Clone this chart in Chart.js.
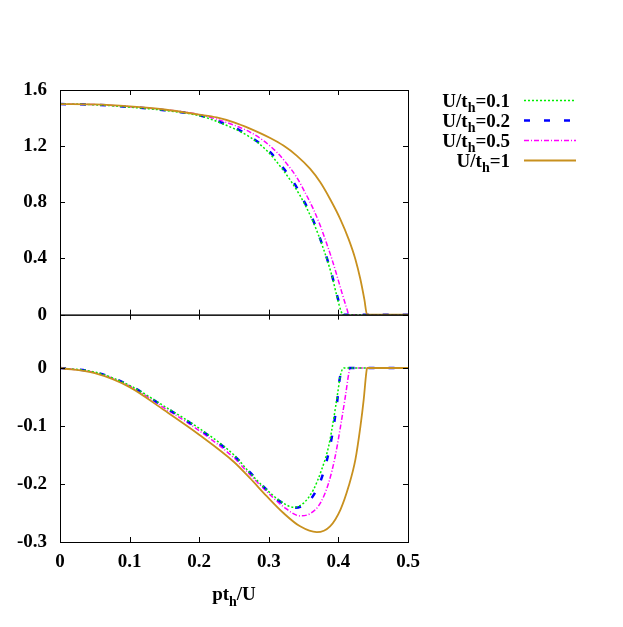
<!DOCTYPE html>
<html lang="en">
  <head>
    <meta charset="UTF-8" />
    <style>
      body { margin: 0; background: #fff; }
    </style>
  </head>
  <body>
    <canvas id="myChart" width="623" height="627"></canvas>
    <script src="https://cdn.jsdelivr.net/npm/chart.js@4.4.0/dist/chart.umd.min.js"></script>
    <script>
      // tick values
      var xTicks = [0, 0.1, 0.2, 0.3, 0.4, 0.5];
      var topTicks = [0, 0.4, 0.8, 1.2, 1.6];
      var botTicks = [-0.3, -0.2, -0.1, 0];
      var uLabels = ["0.1", "0.2", "0.5", "1"];

      // upper panel, [pt_h/U, value]
      var top01 = [[0,1.5],[0.05,1.495],[0.1,1.478],[0.15,1.455],[0.2,1.417],[0.23,1.367],[0.273,1.264],[0.297,1.169],[0.321,1.026],[0.345,0.847],[0.364,0.657],[0.3787,0.466],[0.3907,0.276],[0.3989,0.109],[0.4037,0.026],[0.4066,0],[0.5,0]];
      var top02 = [[0,1.5],[0.05,1.495],[0.1,1.479],[0.15,1.456],[0.2,1.42],[0.23,1.371],[0.259,1.311],[0.278,1.252],[0.302,1.157],[0.321,1.043],[0.338,0.924],[0.352,0.795],[0.364,0.669],[0.374,0.538],[0.3836,0.4],[0.3917,0.264],[0.3989,0.121],[0.405,0.026],[0.4075,0],[0.5,0]];
      var top05 = [[0,1.5],[0.05,1.496],[0.1,1.481],[0.15,1.46],[0.2,1.425],[0.25,1.35],[0.273,1.3],[0.292,1.24],[0.3115,1.157],[0.326,1.074],[0.34,0.979],[0.352,0.871],[0.364,0.752],[0.374,0.633],[0.3826,0.514],[0.3907,0.395],[0.398,0.276],[0.405,0.157],[0.4124,0.038],[0.415,0],[0.5,0]];
      var top1 = [[0,1.5],[0.05,1.497],[0.1,1.483],[0.15,1.461],[0.2,1.425],[0.225,1.405],[0.25,1.37],[0.273,1.325],[0.302,1.258],[0.321,1.204],[0.34,1.133],[0.3595,1.038],[0.374,0.943],[0.388,0.824],[0.4027,0.681],[0.4147,0.538],[0.4244,0.395],[0.4316,0.252],[0.4373,0.109],[0.4412,0],[0.5,0]];

      // lower panel
      var bot01 = [[0,0],[0.05,-0.007],[0.1,-0.03],[0.15,-0.066],[0.2,-0.104],[0.25,-0.15],[0.273,-0.181],[0.297,-0.21],[0.321,-0.233],[0.3355,-0.24],[0.3499,-0.233],[0.364,-0.21],[0.376,-0.175],[0.386,-0.135],[0.393,-0.089],[0.399,-0.043],[0.4027,-0.014],[0.4075,0],[0.5,0]];
      var bot02 = [[0,0],[0.05,-0.007],[0.1,-0.03],[0.15,-0.067],[0.2,-0.105],[0.25,-0.151],[0.273,-0.18],[0.292,-0.204],[0.316,-0.23],[0.338,-0.241],[0.3595,-0.227],[0.374,-0.196],[0.3836,-0.158],[0.3907,-0.118],[0.398,-0.06],[0.4017,-0.02],[0.4075,0],[0.5,0]];
      var bot05 = [[0,0],[0.05,-0.008],[0.1,-0.031],[0.15,-0.069],[0.2,-0.108],[0.25,-0.155],[0.273,-0.184],[0.297,-0.213],[0.321,-0.239],[0.345,-0.255],[0.3595,-0.251],[0.374,-0.233],[0.386,-0.198],[0.3955,-0.152],[0.403,-0.101],[0.41,-0.049],[0.415,-0.009],[0.417,0],[0.5,0]];
      var bot1 = [[0,0],[0.05,-0.009],[0.1,-0.033],[0.15,-0.073],[0.2,-0.115],[0.25,-0.162],[0.273,-0.19],[0.297,-0.221],[0.321,-0.25],[0.345,-0.273],[0.369,-0.283],[0.388,-0.273],[0.403,-0.244],[0.4147,-0.204],[0.4244,-0.158],[0.4316,-0.101],[0.4363,-0.055],[0.44,-0.009],[0.4412,0],[0.5,0]];

      var colors = ["#00ee00", "#0000ff", "#ff00ff", "#c8901e"];
      var dashes = [[2, 2], [6, 14], [5, 2, 1, 2], []];
      var widths = [1.5, 2.5, 1.5, 1.8];
      var FONT = "Liberation Serif";

      function toXY(arr) {
        return arr.map(function (p) { return { x: p[0], y: p[1] }; });
      }

      var datasets = [];
      [top01, top02, top05, top1].forEach(function (d, i) {
        datasets.push({ data: toXY(d), yAxisID: "yTop", series: i });
      });
      [bot01, bot02, bot05, bot1].forEach(function (d, i) {
        datasets.push({ data: toXY(d), yAxisID: "yBot", series: i });
      });
      datasets.forEach(function (ds) {
        ds.borderColor = colors[ds.series];
        ds.borderDash = dashes[ds.series];
        ds.borderWidth = widths[ds.series];
        ds.pointRadius = 0;
        ds.fill = false;
        ds.cubicInterpolationMode = "monotone";
      });
      // gold drawn first so the dashed lines stay on top
      datasets.sort(function (a, b) { return (b.series === 3) - (a.series === 3); });

      function fmt(v) {
        var s = String(Math.round(v * 10) / 10);
        return s === "-0" ? "0" : s;
      }

      // text with subscript pieces: [[text, isSub], ...]
      function drawSub(ctx, parts, x, y, align, size) {
        var sub = Math.round(size * 0.72);
        var w = 0;
        parts.forEach(function (p) {
          ctx.font = "bold " + (p[1] ? sub : size) + "px '" + FONT + "'";
          w += ctx.measureText(p[0]).width;
        });
        var cx = align === "right" ? x - w : align === "center" ? x - w / 2 : x;
        ctx.textAlign = "left";
        ctx.textBaseline = "alphabetic";
        ctx.fillStyle = "#000";
        parts.forEach(function (p) {
          ctx.font = "bold " + (p[1] ? sub : size) + "px '" + FONT + "'";
          ctx.fillText(p[0], cx, p[1] ? y + size * 0.3 : y);
          cx += ctx.measureText(p[0]).width;
        });
      }

      var framePlugin = {
        id: "frame",
        afterDraw: function (chart) {
          var ctx = chart.ctx;
          var area = chart.chartArea;
          var xs = chart.scales.x;
          var tl = 5;
          ctx.save();
          ctx.strokeStyle = "#000";
          ctx.lineWidth = 1;
          [["yTop", topTicks], ["yBot", botTicks]].forEach(function (pair) {
            var ys = chart.scales[pair[0]];
            ctx.strokeRect(area.left + 0.5, ys.top + 0.5, area.right - area.left, ys.bottom - ys.top);
            ctx.beginPath();
            xTicks.forEach(function (v) {
              var px = Math.round(xs.getPixelForValue(v)) + 0.5;
              ctx.moveTo(px, ys.top);
              ctx.lineTo(px, ys.top + tl);
              ctx.moveTo(px, ys.bottom);
              ctx.lineTo(px, ys.bottom - tl);
            });
            pair[1].forEach(function (v) {
              var py = Math.round(ys.getPixelForValue(v)) + 0.5;
              ctx.moveTo(area.left, py);
              ctx.lineTo(area.left + tl, py);
              ctx.moveTo(area.right, py);
              ctx.lineTo(area.right - tl, py);
            });
            ctx.stroke();
          });

          // axis title
          var cx = (area.left + area.right) / 2;
          drawSub(ctx, [["pt", false], ["h", true], ["/U", false]], cx, 600, "center", 19);

          // legend
          uLabels.forEach(function (u, i) {
            var ly = 100.5 + i * 20;
            drawSub(ctx, [["U/t", false], ["h", true], ["=" + u, false]], 510, ly + 6, "right", 19);
            ctx.beginPath();
            ctx.strokeStyle = colors[i];
            ctx.lineWidth = widths[i];
            ctx.setLineDash(dashes[i]);
            ctx.moveTo(524, ly);
            ctx.lineTo(576, ly);
            ctx.stroke();
            ctx.setLineDash([]);
          });
          ctx.restore();
        },
      };

      var tickFont = { family: FONT, size: 19, weight: "bold" };

      var chart = new Chart(document.getElementById("myChart").getContext("2d"), {
        type: "line",
        data: { datasets: datasets },
        plugins: [framePlugin],
        options: {
          responsive: false,
          animation: false,
          layout: { padding: { top: 90, right: 215, left: 0, bottom: 0 } },
          plugins: { legend: { display: false }, tooltip: { enabled: false } },
          scales: {
            x: {
              type: "linear",
              min: 0,
              max: 0.5,
              grid: { display: false, drawTicks: false },
              border: { display: false },
              afterBuildTicks: function (s) { s.ticks = xTicks.map(function (v) { return { value: v }; }); },
              afterFit: function (s) { s.height = 85; },
              ticks: { font: tickFont, color: "#000", padding: 9, maxRotation: 0, callback: fmt },
            },
            yBot: {
              type: "linear",
              position: "left",
              stack: "panels",
              stackWeight: 227.3,
              min: -0.3,
              max: 0.092,
              grid: { display: false, drawTicks: false },
              border: { display: false },
              afterBuildTicks: function (s) { s.ticks = botTicks.map(function (v) { return { value: v }; }); },
              afterFit: function (s) { s.width = 60; },
              ticks: { font: tickFont, color: "#000", padding: 13, callback: fmt },
            },
            yTop: {
              type: "linear",
              position: "left",
              stack: "panels",
              stackWeight: 224.6,
              min: 0,
              max: 1.6,
              grid: { display: false, drawTicks: false },
              border: { display: false },
              afterBuildTicks: function (s) { s.ticks = topTicks.map(function (v) { return { value: v }; }); },
              afterFit: function (s) { s.width = 60; },
              ticks: { font: tickFont, color: "#000", padding: 13, callback: fmt },
            },
          },
        },
      });
    </script>
  </body>
</html>
